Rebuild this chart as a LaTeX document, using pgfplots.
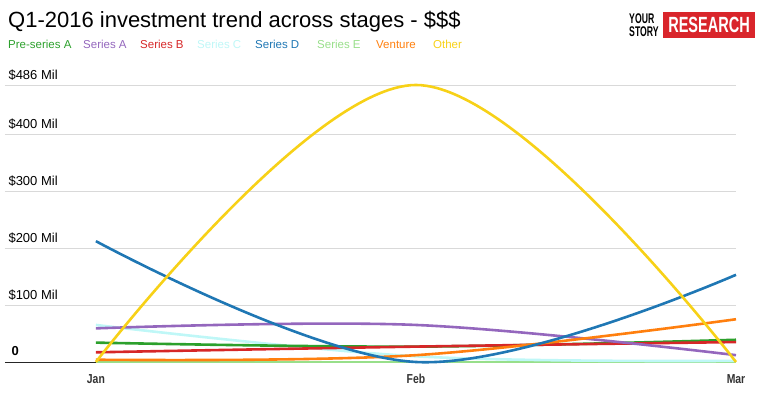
\documentclass[border=0pt]{standalone}
\usepackage{pgfplots}
\pgfplotsset{compat=1.18}
\usepackage{fontspec}
\setmainfont{Liberation Sans}
\definecolor{cPre}{HTML}{2CA02C}
\definecolor{cA}{HTML}{9467BD}
\definecolor{cB}{HTML}{D62728}
\definecolor{cC}{HTML}{BFF7F7}
\definecolor{cD}{HTML}{1F77B4}
\definecolor{cE}{HTML}{98DF8A}
\definecolor{cV}{HTML}{FF7F0E}
\definecolor{cO}{HTML}{F7D117}
\definecolor{logored}{HTML}{D9252B}
\begin{document}
\begin{tikzpicture}[x=1pt,y=1pt]
\useasboundingbox (0,0) rectangle (767,401);
% title
\node[anchor=base west,inner sep=0pt,font=\fontsize{22}{23}\selectfont] at (8,373) {Q1-2016 investment trend across stages - \$\$\$};
% legend
\begin{scope}[every node/.style={anchor=base west,inner sep=0pt,font=\fontsize{11.5}{12}\selectfont}]
\node[text=cPre] at (8,352) {Pre-series A};
\node[text=cA] at (83,352) {Series A};
\node[text=cB] at (140,352) {Series B};
\node[text=cC] at (197,352) {Series C};
\node[text=cD] at (255,352) {Series D};
\node[text=cE] at (317,352) {Series E};
\node[text=cV] at (376,352) {Venture};
\node[text=cO] at (433,352) {Other};
\end{scope}
% logo
\node[anchor=base west,inner sep=0pt,font=\bfseries\fontsize{14}{14}\selectfont] at (629,377) {\scalebox{0.62}[1]{YOUR}};
\node[anchor=base west,inner sep=0pt,font=\bfseries\fontsize{14}{14}\selectfont] at (629,364) {\scalebox{0.62}[1]{STORY}};
\fill[logored] (663,363) rectangle (755,389);
\node[anchor=center,inner sep=0pt,text=white,font=\bfseries\fontsize{22}{22}\selectfont] at (709,376) {\scalebox{0.66}[1]{RESEARCH}};
\begin{axis}[
  at={(5pt,39pt)}, anchor=south west,
  scale only axis, width=731pt, height=277pt,
  xmin=-0.284, xmax=2, ymin=0, ymax=486,
  clip=false,
  axis line style={draw=none},
  xtick={0,1,2}, xticklabels={\scalebox{0.8}[1]{Jan},\scalebox{0.8}[1]{Feb},\scalebox{0.8}[1]{Mar}},
  major tick length=0pt,
  xticklabel style={font=\bfseries\fontsize{13}{14}\selectfont, text=black!80, yshift=-9pt},
  ytick={100,200,300,400,486},
  yticklabels={\$100 Mil,\$200 Mil,\$300 Mil,\$400 Mil,\$486 Mil},
  yticklabel style={anchor=south west, xshift=0pt, yshift=1pt, font=\fontsize{13}{14}\selectfont, text=black},
  extra y ticks={0}, extra y tick labels={\textbf{0}},
  extra y tick style={grid style={black!85,line width=0.8pt}, yticklabel style={xshift=3pt, yshift=2pt, font=\bfseries\fontsize{13}{14}\selectfont}},
  ymajorgrids, grid style={black!15, line width=0.6pt},
  every axis plot/.append style={line width=2.6pt, smooth, tension=0.6},
]
\addplot[cE] coordinates {(0,0) (1,0) (2,0)};
\addplot[cC] coordinates {(0,65) (1,10) (2,2)};
\addplot[cPre] coordinates {(0,34) (1,27) (2,39)};
\addplot[cB] coordinates {(0,17) (1,27) (2,35)};
\addplot[cA] coordinates {(0,59) (1,65) (2,12)};
\addplot[cV] coordinates {(0,4) (1,12) (2,75)};
\addplot[cD] coordinates {(0,212) (1,0) (2,153)};
\addplot[cO] coordinates {(0,0) (1,486) (2,0)};
\end{axis}
\end{tikzpicture}
\end{document}
